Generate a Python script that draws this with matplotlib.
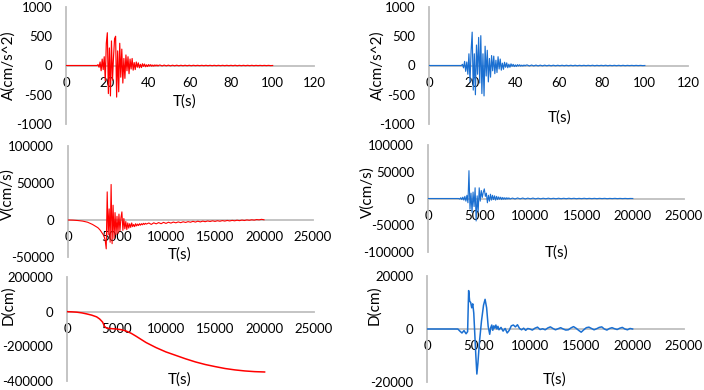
import numpy as np
import matplotlib
matplotlib.use("Agg")
import matplotlib.pyplot as plt
from matplotlib.ticker import FuncFormatter

plt.rcParams["font.family"] = ["Lato", "DejaVu Sans"]
plt.rcParams["axes.unicode_minus"] = False

# ─── data ───
# acceleration, cm/s^2 : burst sampled every 0.5 s from 15 s, tail every 1 s
acc_red_burst = [0, 15, -30, 60, -90, 110, -70, 150, -260, 380, 560, -480, 300, -520, 420,
                 -250, 150, 460, 500, -540, 250, -450, 380, -200, 280, -300, 120, -220, 180,
                 -90, 150, -140, 110, -60, 120, -80, 50, -70, 60, -30, 45, -40, 20, -35, 30,
                 -15, 25, -22, 12, -18, 16, -10, 14, -12, 8, -11, 10, -6, 9, -8, 5]
acc_red_tail = [8, -7, 7, -6, 6, -6, 5, -5, 5, -5, 4, -4, 4, -4, 4, -4, 4, -3, 3, -3, 3, -3,
                3, -3, 3, -3, 3, -3, 3, -3, 3, -3, 3, -3, 3, -3, 4, -4, 3, -3, 3, -3, 3, -3,
                3, -3, 2, -2, 2, -2, 2, -2, 2, -2, 0]
acc_blue_burst = [0, 20, -40, 70, -100, 60, -150, 200, -280, 250, 570, -420, 200, -500, 350,
                  -150, 480, -300, 510, -480, 200, -520, 330, -180, 260, -280, 120, -200, 170,
                  -90, 160, -140, 90, -120, 150, -60, 110, -80, 40, -65, 55, -30, 45, -38, 22,
                  -30, 28, -14, 20, -18, 10, -16, 14, -8, 12, -10, 6, -9, 8, -5, 7]
acc_blue_tail = [9, -8, 8, -7, 7, -7, 6, -6, 6, -5, 5, -5, 5, -5, 4, -4, 4, -4, 4, -4, 4, -4,
                 4, -4, 3, -3, 3, -3, 3, -3, 4, -4, 3, -3, 3, -3, 4, -4, 3, -3, 3, -3, 3, -3,
                 3, -3, 2, -2, 2, -2, 2, -2, 2, -2, 0]

# velocity, cm/s : lead-in every 500, burst every 100 from 3000, tail every 250 from 8250
vel_red_lead = [0, -200, -700, -1500, -3000, -6000]
vel_red_burst = [-10000, -11000, -12500, -14000, -16000, -18000, -20000, -23000, -28000,
                 -39000, 38000, -20000, 15000, -30000, 48000, -32000, 20000, -25000, 10000,
                 -20000, 5000, -18000, 8000, -15000, 3000, 11000, -14000, 2000, -12000, -2000,
                 -13000, -4000, -11000, -5000, -10000, -4000, -9000, -6000, -9000, -5000,
                 -8000, -5500, -7500, -5000, -7000, -5000, -6500, -4500, -6000, -4500, -5500]
vel_red_tail = [-4000, -6000, -3800, -5200, -3500, -5000, -3200, -4600, -3000, -4200, -2800,
                -3800, -2600, -3600, -2400, -3300, -2200, -3000, -1800, -2800, -1600, -2600,
                -1500, -2300, -1300, -2000, -1100, -1900, -1000, -1700, -800, -1500, -600,
                -1300, -500, -1100, -300, -900, -100, -700, 100, -400, 300, -200, 600, 200,
                900, 300]
vel_blue_lead = [0, 0, 0, 0, 0, 0]
vel_blue_burst = [0, -1000, 1500, -2000, 2500, -3000, 4000, -5000, 6000, -8000, 52000,
                  -20000, 10000, -26000, 12000, -15000, 20000, -42000, 5000, -25000, 20000,
                  -5000, 15000, 2000, 12000, 18000, 4000, 10000, -8000, 6000, -5000, 8000,
                  -3000, 6000, -2000, 5000, -3000, 4000, -2000, 3000, -1500, 2500, -2000, 2000,
                  -1500, 1500, -1500, 1500, -1000, 1200, -1000]
vel_blue_tail = [800, -900, 1000, -700, 900, -800, 700, -600, 800, -700, 600, -600, 500, -500,
                 600, -500, 400, -500, 500, -400, 400, -400, 500, -300, 400, -400, 300, -300,
                 400, -300, 300, -300, 300, -300, 300, -200, 300, -300, 200, -200, 300, -200,
                 200, -200, 200, -200, 100, 0]

# displacement, cm
disp_red_t = [0, 500, 1000, 1500, 2000, 2500, 3000, 3300, 3600, 3800, 4000, 4500, 5000, 5500,
              6000, 6500, 7000, 8000, 9000, 10000, 11000, 12000, 13000, 14000, 15000, 16000,
              17000, 18000, 19000, 20000]
disp_red = [0, -1000, -3000, -7000, -13000, -20000, -30000, -42000, -60000, -85000, -95000,
            -98000, -100000, -104000, -112000, -125000, -142000, -178000, -207000, -232000,
            -252000, -272000, -290000, -305000, -317000, -328000, -336000, -342000, -346000,
            -348000]
disp_blue_t = [0, 3000, 3200, 3400, 3600, 3800, 3950, 4050, 4150, 4250, 4350, 4450, 4550, 4650,
               4750, 4850, 4950, 5100, 5300, 5500, 5650, 5800, 5950, 6100, 6200, 6300, 6400,
               6500, 6600, 6700, 6800, 6900, 7000, 7200, 7400, 7600, 7800, 8000, 8200, 8400,
               8600, 8800, 9000, 9200, 9400, 9600, 9800]
disp_blue = [0, 0, -800, -1500, -600, -1800, -1000, 14500, 10500, 10000, 8000, 9500, 6000,
             -2000, -10000, -17000, -13000, -5000, 3000, 9000, 11200, 8000, 1000, -2000, 500,
             1500, -500, 1200, 300, 1500, 0, 1000, -300, 600, -800, 200, -1500, -500, 1200,
             1500, 800, 1600, 200, -300, 300, -500, 200]
disp_blue_tail = [0, -400, 300, 700, -200, 100, -300, 400, 800, 200, -300, 100, 500, 0, -400,
                  -300, 400, 900, 300, -500, -1200, -300, 500, 700, 200, -300, 100, 600, 800, 0,
                  -400, 200, 500, 100, -200, 300, 600, 0, -300, 200, 0]

RED = "#FF0000"
BLUE = "#1A6FD1"
AXIS_GRAY = "#BFBFBF"
W, H = 704, 390


def trace(lead_t, lead, t0, dt, burst, tail_t0, tail_t1, tail):
    t = list(lead_t) + list(t0 + dt * np.arange(len(burst))) + \
        list(np.linspace(tail_t0, tail_t1, len(tail)))
    return np.array(t), np.array(list(lead) + list(burst) + list(tail))


def box(x0, x1, ytop, ybot):
    return [x0 / W, 1 - ybot / H, (x1 - x0) / W, (ybot - ytop) / H]


def style(ax, xmax, xstep, yticks):
    ax.set_xlim(0, xmax)
    ax.set_ylim(yticks[0], yticks[-1])
    ax.set_xticks(np.arange(0, xmax + 1, xstep))
    ax.set_yticks(yticks)
    for s in ["top", "right"]:
        ax.spines[s].set_visible(False)
    ax.spines["bottom"].set_position(("data", 0))
    for s in ["left", "bottom"]:
        ax.spines[s].set_color(AXIS_GRAY)
        ax.spines[s].set_linewidth(1.3)
    fmt = FuncFormatter(lambda v, p: f"{v:.0f}")
    ax.xaxis.set_major_formatter(fmt)
    ax.yaxis.set_major_formatter(fmt)
    ax.tick_params(axis="x", length=0, pad=8, labelsize=9.5)
    ax.tick_params(axis="y", length=0, pad=10, labelsize=9.5)
    ax.patch.set_visible(False)


fig = plt.figure(figsize=(W / 100, H / 100), dpi=100)

# ─── acceleration ───
t, a = trace([0], [0], 15, 0.5, acc_red_burst, 45.5, 100, acc_red_tail)
ax = fig.add_axes(box(66, 314, 7, 124))
ax.plot(t, a, color=RED, lw=0.85, zorder=3)
style(ax, 120, 20, [-1000, -500, 0, 500, 1000])

t, a = trace([0], [0], 15, 0.5, acc_blue_burst, 45.5, 100, acc_blue_tail)
ax = fig.add_axes(box(429, 688, 7, 124))
ax.plot(t, a, color=BLUE, lw=0.85, zorder=3)
style(ax, 120, 20, [-1000, -500, 0, 500, 1000])

# ─── velocity ───
lead_t = [0, 500, 1000, 1500, 2000, 2500]
t, v = trace(lead_t, vel_red_lead, 3000, 100, vel_red_burst, 8250, 20000, vel_red_tail)
ax = fig.add_axes(box(68, 313, 146, 257))
ax.plot(t, v, color=RED, lw=0.8, zorder=3)
style(ax, 25000, 5000, [-50000, 0, 50000, 100000])

t, v = trace(lead_t, vel_blue_lead, 3000, 100, vel_blue_burst, 8250, 20000, vel_blue_tail)
ax = fig.add_axes(box(428, 684, 145, 252))
ax.plot(t, v, color=BLUE, lw=0.8, zorder=3)
style(ax, 25000, 5000, [-100000, -50000, 0, 50000, 100000])

# ─── displacement ───
ax = fig.add_axes(box(67, 314, 277, 381))
ax.plot(disp_red_t, disp_red, color=RED, lw=1.1, zorder=3)
style(ax, 25000, 5000, [-400000, -200000, 0, 200000])

t = np.array(disp_blue_t + list(np.linspace(10000, 20000, len(disp_blue_tail))))
d = np.array(disp_blue + disp_blue_tail)
ax = fig.add_axes(box(427, 684, 276, 382))
ax.plot(t, d, color=BLUE, lw=1.1, zorder=3)
style(ax, 25000, 5000, [-20000, 0, 20000])

# ─── axis titles ───
for x, y in [(185, 102), (560, 118), (180, 255), (557, 253), (180, 380), (555, 380)]:
    fig.text(x / W, 1 - y / H, "T(s)", ha="center", va="center", fontsize=11)
for x, y, s in [(9, 65, "A(cm/s^2)"), (377, 65, "A(cm/s^2)"),
                (8, 194, "V(cm/s)"), (367, 192, "V(cm/s)"),
                (8, 305, "D(cm)"), (374, 305, "D(cm)")]:
    fig.text(x / W, 1 - y / H, s, ha="center", va="center", rotation=90, fontsize=11)

fig.savefig("out.png", dpi=100)
